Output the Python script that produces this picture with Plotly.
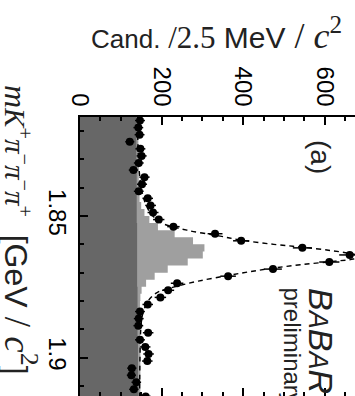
import numpy as np
import plotly.graph_objects as go

# ---------------- data ----------------
MASS_MIN = 1.815          # GeV/c^2, lower edge of first bin
BIN_WIDTH = 0.0025        # 2.5 MeV/c^2 bins

data_counts = [147, 143, 146, 122, 148, 151, 144, 131, 158, 152,
               144, 166, 173, 179, 193, 229, 331, 395, 545, 661,
               611, 473, 363, 238, 216, 197, 166, 147, 144, 143,
               167, 147, 160, 168, 165, 127, 126, 138, 132, 161]

bkg_counts = [138, 138, 138, 138, 138, 138, 139, 139, 139, 139,
              139, 139, 139, 139, 139, 140, 140, 140, 140, 140,
              140, 140, 140, 140, 141, 141, 141, 141, 141, 141,
              141, 142, 142, 142, 142, 142, 142, 142, 143, 143]

stack_total = [143, 143, 143, 143, 143, 144, 144, 144, 144, 145,
               145, 146, 150, 158, 170, 191, 232, 277, 305, 301,
               264, 215, 183, 162, 151, 148, 147, 147, 147, 147,
               147, 148, 148, 148, 148, 148, 148, 148, 148, 148]

fit_mass = [1.8150, 1.8250, 1.8338, 1.8400, 1.8450, 1.8491, 1.8515, 1.8527,
            1.8550, 1.8570, 1.8585, 1.8600, 1.8610, 1.8622, 1.8632, 1.8643,
            1.8652, 1.8661, 1.8672, 1.8684, 1.8697, 1.8710, 1.8730, 1.8750,
            1.8768, 1.8786, 1.8810, 1.8850, 1.8900, 1.9000, 1.9150]
fit_counts = [141, 142, 145, 150, 159, 173, 190, 203,
              262, 340, 394, 475, 545, 615, 660, 690,
              670, 615, 540, 473, 415, 363, 290, 232,
              192, 175, 163, 153, 149, 147, 146]

count_ticks = [0, 200, 400, 600]
mass_ticks = [1.85, 1.9]
mass_tick_labels = ["1.85", "1.9"]

# ---------------- derived bins ----------------
nb = len(data_counts)
edges = MASS_MIN + BIN_WIDTH * np.arange(nb + 1)
centers = edges[:-1] + BIN_WIDTH / 2
errors = np.sqrt(np.array(data_counts, dtype=float))


def step(vals):
    return list(vals) + [vals[-1]], list(edges)


SANS = "Liberation Sans, Arial, Helvetica, sans-serif"
SERIF = "Liberation Serif, DejaVu Serif, serif"

fig = go.Figure()

xs, ys = step(stack_total)
fig.add_trace(go.Scatter(x=xs, y=ys, mode="lines", line=dict(width=0, shape="vh"),
                         fill="tozerox", fillcolor="#9f9f9f", hoverinfo="skip",
                         showlegend=False))
xs, ys = step(bkg_counts)
fig.add_trace(go.Scatter(x=xs, y=ys, mode="lines", line=dict(width=0, shape="vh"),
                         fill="tozerox", fillcolor="#676767", hoverinfo="skip",
                         showlegend=False))
fig.add_trace(go.Scatter(x=fit_counts, y=fit_mass, mode="lines",
                         line=dict(color="black", width=1.4, dash="5px,4px", shape="spline"),
                         showlegend=False))
fig.add_trace(go.Scatter(x=data_counts, y=centers, mode="markers",
                         marker=dict(color="black", size=8),
                         error_x=dict(type="data", array=errors, color="black",
                                      thickness=1.5, width=0),
                         showlegend=False))
# dummy trace so the bottom (mirror) tick axis is drawn
fig.add_trace(go.Scatter(x=[0], y=[1.85], xaxis="x2", mode="markers",
                         marker=dict(opacity=0), hoverinfo="skip", showlegend=False))

tickcommon = dict(ticks="inside", tickcolor="black", tickwidth=1.5, showgrid=False,
                  zeroline=False)

fig.update_layout(
    width=355, height=396,
    margin=dict(l=80, r=0, t=117, b=0, pad=0),
    paper_bgcolor="white", plot_bgcolor="white",
    font=dict(family=SANS, color="black"),
    xaxis=dict(range=[0, 674], side="top", tickvals=count_ticks, ticklen=8,
               tickangle=90, tickfont=dict(size=24, family=SANS),
               showline=True, linecolor="black", linewidth=2,
               minor=dict(dtick=50, tick0=0, ticks="inside", ticklen=4,
                          tickwidth=1.5, tickcolor="black", showgrid=False),
               **tickcommon),
    xaxis2=dict(overlaying="x", matches="x", side="bottom", anchor="y",
                tickvals=count_ticks, ticklen=8, showticklabels=False,
                showline=False,
                minor=dict(dtick=50, tick0=0, ticks="inside", ticklen=4,
                           tickwidth=1.5, tickcolor="black", showgrid=False),
                **tickcommon),
    yaxis=dict(range=[1.9136, 1.815], tickvals=mass_ticks, ticktext=mass_tick_labels,
               ticklen=8, tickangle=90, tickfont=dict(size=24, family=SANS),
               showline=True, linecolor="black", linewidth=2,
               minor=dict(dtick=0.01, tick0=1.85, ticks="inside", ticklen=4,
                          tickwidth=1.5, tickcolor="black", showgrid=False),
               **tickcommon),
)


def px_x(p):
    return (p - 80) / 275.0


def px_y(p):
    return (396 - p) / 279.0


fig.add_annotation(
    text=("Cand.<span style='font-family:" + SERIF + ";font-size:31px'> /2.5</span>"
          "<span style='font-size:30px'> MeV</span>"
          "<span style='font-family:" + SERIF + ";font-size:36px'> / <i>c</i><sup>2</sup></span>"),
    xref="paper", yref="paper", x=px_x(89), y=px_y(33), xanchor="left", yanchor="middle",
    showarrow=False, font=dict(size=26, family=SANS, color="#222"))

fig.add_annotation(
    text=("<span style='font-family:" + SERIF + "'><i>m</i><span style='font-size:29px'>"
          "<i>K</i><sup>+</sup><i>π</i><sup>−</sup><i>π</i><sup>−</sup><i>π</i><sup>+</sup>"
          "</span></span>"
          "  [GeV<span style='font-family:" + SERIF + ";font-size:37px'> / <i>c</i><sup>2</sup></span>]"),
    xref="paper", yref="paper", x=px_x(21), y=px_y(83), xanchor="center", yanchor="top",
    textangle=90, showarrow=False, font=dict(size=32, family=SANS, color="#222"))

fig.add_annotation(text="(a)", xref="paper", yref="paper", x=px_x(321), y=px_y(157),
                   xanchor="center", yanchor="middle", textangle=90, showarrow=False,
                   font=dict(size=28, family=SANS, color="#222"))

fig.add_annotation(text="<i>B<span style='font-size:27px'>A</span>B<span style='font-size:27px'>A</span>R</i>",
                   xref="paper", yref="paper", x=px_x(321), y=px_y(286),
                   xanchor="center", yanchor="top", textangle=90, showarrow=False,
                   font=dict(size=34, family=SANS, color="#222"))

fig.add_annotation(text="preliminary", xref="paper", yref="paper", x=px_x(292), y=px_y(285),
                   xanchor="center", yanchor="top", textangle=90, showarrow=False,
                   font=dict(size=24, family=SANS, color="#222"))

fig.write_html("out.html")
